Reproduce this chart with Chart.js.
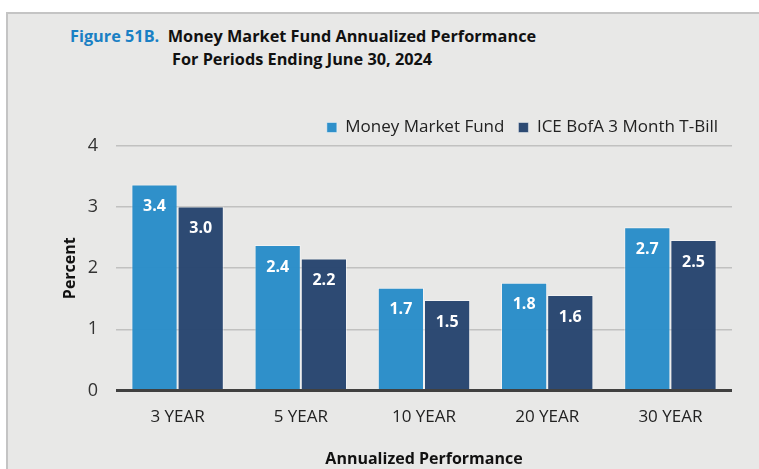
<!DOCTYPE html>
<html>
<head>
<meta charset="utf-8">
<script src="https://cdn.jsdelivr.net/npm/chart.js@4"></script>
<style>
  html, body { margin: 0; padding: 0; background: #fff; }
  #wrap { position: relative; width: 759px; height: 469px; overflow: hidden; }
  #panel { position: absolute; left: 6px; top: 12px; width: 760px; height: 460px;
           background: #e8e8e7; border-top: 2px solid #c4c4c4; border-left: 2px solid #c4c4c4; }
  .ttl { position: absolute; font-family: "Open Sans", sans-serif;
         font-weight: bold; font-size: 16.3px; color: #111; white-space: nowrap; }
  .ttl .fig { color: #1a80c4; }
  #holder { position: absolute; left: 0; top: 0; width: 759px; height: 469px; }
</style>
</head>
<body>
<div id="wrap">
  <div id="panel"></div>
  <div class="ttl" style="left:70px; top:25px;"><span class="fig">Figure 51B.</span>&nbsp; Money Market Fund Annualized Performance</div>
  <div class="ttl" style="left:172px; top:48px;">For Periods Ending June 30, 2024</div>
  <div id="holder"><canvas id="chart"></canvas></div>
</div>
<script>
var periods = ['3 YEAR', '5 YEAR', '10 YEAR', '20 YEAR', '30 YEAR'];
var moneyMarket = [3.37, 2.38, 1.68, 1.76, 2.67];
var tBill = [3.01, 2.16, 1.48, 1.56, 2.46];
var yTicks = [0, 1, 2, 3, 4];

// white value labels just inside the top of each bar
var barLabels = {
    id: 'barLabels',
    afterDatasetsDraw: function(chart) {
        var ctx = chart.ctx;
        ctx.save();
        ctx.font = 'bold 16px "Open Sans", sans-serif';
        ctx.fillStyle = '#ffffff';
        ctx.textAlign = 'center';
        ctx.textBaseline = 'middle';
        chart.data.datasets.forEach(function(ds, i) {
            chart.getDatasetMeta(i).data.forEach(function(bar, j) {
                ctx.fillText(ds.data[j].toFixed(1), bar.x, bar.y + 22);
            });
        });
        ctx.restore();
    }
};

var ctx = document.getElementById('chart').getContext('2d');
var chart = new Chart(ctx, {
    type: 'bar',
    data: {
        labels: periods,
        datasets: [{
            label: 'Money Market Fund',
            data: moneyMarket,
            backgroundColor: 'rgba(40,140,200,0.97)',
            borderColor: 'rgba(255,255,255,0.45)',
            borderWidth: 1
        }, {
            label: 'ICE BofA 3 Month T-Bill',
            data: tBill,
            backgroundColor: 'rgba(38,68,110,0.97)',
            borderColor: 'rgba(255,255,255,0.45)',
            borderWidth: 1
        }]
    },
    options: {
        responsive: true,
        maintainAspectRatio: false,
        animation: false,
        layout: { padding: { left: 61, right: 27, top: 105, bottom: 0 } },
        categoryPercentage: 0.75,
        barPercentage: 1.0,
        plugins: {
            tooltip: { enabled: false },
            legend: {
                position: 'top',
                align: 'end',
                labels: {
                    boxWidth: 10,
                    boxHeight: 10,
                    padding: 14,
                    color: '#222',
                    font: { family: '"Open Sans", sans-serif', size: 17 }
                }
            }
        },
        scales: {
            x: {
                grid: { display: false },
                border: { display: false },
                ticks: {
                    color: '#222',
                    padding: 9,
                    font: { family: '"Open Sans", sans-serif', size: 17 }
                },
                title: {
                    display: true,
                    text: 'Annualized Performance',
                    color: '#111',
                    padding: { top: 13, bottom: 0 },
                    font: { family: '"Open Sans", sans-serif', size: 16, weight: 'bold' }
                }
            },
            y: {
                min: 0,
                max: 4,
                z: 1,
                afterBuildTicks: function(scale) {
                    scale.ticks = yTicks.map(function(v) { return { value: v }; });
                },
                afterFit: function(scale) {
                    scale.width = 55;
                },
                grid: {
                    drawTicks: false,
                    color: function(c) { return c.tick && c.tick.value === 0 ? '#404040' : 'rgba(0,0,0,0.17)'; },
                    lineWidth: function(c) { return c.tick && c.tick.value === 0 ? 3 : 1.5; }
                },
                border: { display: false },
                ticks: {
                    color: '#333',
                    padding: 18,
                    font: { family: '"Open Sans", sans-serif', size: 18 }
                },
                title: {
                    display: true,
                    text: 'Percent',
                    color: '#111',
                    padding: { top: 0, bottom: 4 },
                    font: { family: '"Open Sans", sans-serif', size: 16, weight: 'bold' }
                }
            }
        }
    },
    plugins: [barLabels]
});
</script>
</body>
</html>
